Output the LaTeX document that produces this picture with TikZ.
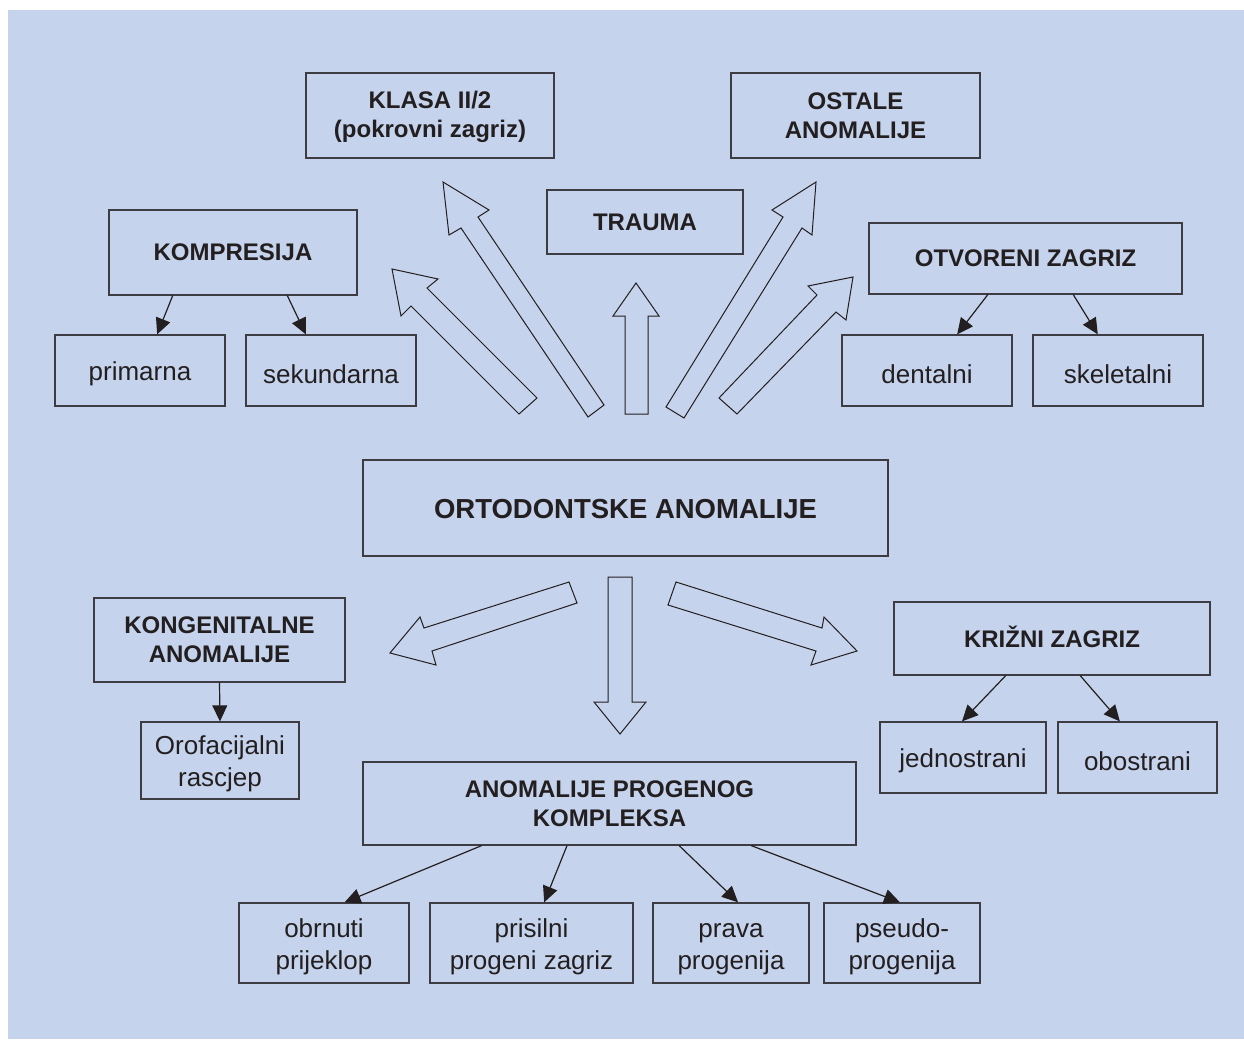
\documentclass[tikz,border=0pt]{standalone}
\usepackage{fontspec}
\setmainfont{Liberation Sans}
\usetikzlibrary{arrows.meta,calc}
\definecolor{bgblue}{RGB}{197,211,236}
\definecolor{boxcol}{RGB}{60,60,66}
\definecolor{txtcol}{RGB}{35,31,32}
\newcommand{\myhs}{\rule[-4pt]{0pt}{24pt}}
\newcommand{\myps}{\rule{0pt}{26pt}}
\newcommand{\myts}{\rule[-3pt]{0pt}{27pt}}
\tikzset{
  box/.style={draw=boxcol, line width=1.3pt, inner sep=0pt, align=center, text=txtcol},
  headtxt/.style={font=\fontsize{24}{29}\selectfont\bfseries},
  plaintxt/.style={font=\fontsize{26}{32}\selectfont},
  conn/.style={draw=txtcol, line width=1.2pt, -{Triangle[length=16pt,width=15pt]}},
  fatarrow/.style={draw=txtcol, line width=1pt, line join=miter}
}
\begin{document}
\begin{tikzpicture}[x=1pt,y=-1pt]
\useasboundingbox (0,0) rectangle (1244,1039);
\fill[white] (0,0) rectangle (1244,1039);
\fill[bgblue] (8,10) rectangle (1244,1039);

% upper nodes
\node[box,headtxt,minimum width=248pt,minimum height=85pt] (klasa) at (430,115.5) {\myhs KLASA II/2\\\myhs(pokrovni zagriz)};
\node[box,headtxt,minimum width=249pt,minimum height=85pt] (ostale) at (855.5,115.5) {\myhs OSTALE\\\myhs ANOMALIJE};
\node[box,headtxt,minimum width=196pt,minimum height=64pt] (trauma) at (645,222) {\myhs TRAUMA};
\node[box,headtxt,minimum width=248pt,minimum height=85pt] (kompresija) at (233,252.5) {\myhs KOMPRESIJA};
\node[box,headtxt,minimum width=313pt,minimum height=71pt] (otvoreni) at (1025.5,258.5) {\myhs OTVORENI ZAGRIZ};
\node[box,plaintxt,minimum width=170pt,minimum height=71pt] (primarna) at (140,370.5) {\myps primarna};
\node[box,plaintxt,minimum width=170pt,minimum height=71pt] (sekundarna) at (331,370.5) {\myps sekundarna};
\node[box,plaintxt,minimum width=170pt,minimum height=71pt] (dentalni) at (927,370.5) {\myps dentalni};
\node[box,plaintxt,minimum width=170pt,minimum height=71pt] (skeletalni) at (1118,370.5) {\myps skeletalni};

% centre
\node[box,font=\fontsize{27.5}{33}\selectfont\bfseries,minimum width=525pt,minimum height=96pt] (orto) at (625.5,508) {\myts ORTODONTSKE ANOMALIJE};

% lower nodes
\node[box,headtxt,minimum width=251pt,minimum height=84pt] (kong) at (219.5,640) {\myhs KONGENITALNE\\\myhs ANOMALIJE};
\node[box,plaintxt,minimum width=158pt,minimum height=77pt] (orof) at (220,760.5) {\myps Orofacijalni\\\myps rascjep};
\node[box,headtxt,minimum width=316pt,minimum height=73pt] (krizni) at (1052,638.5) {\myhs KRIŽNI ZAGRIZ};
\node[box,plaintxt,minimum width=166pt,minimum height=71pt] (jedno) at (963,757.5) {\myps jednostrani};
\node[box,plaintxt,minimum width=159pt,minimum height=71pt] (obo) at (1137.5,757.5) {\myps obostrani};
\node[box,headtxt,minimum width=493pt,minimum height=83pt] (prog) at (609.5,803.5) {\myhs ANOMALIJE PROGENOG\\\myhs KOMPLEKSA};
\node[box,plaintxt,minimum width=170pt,minimum height=80pt] (obrnuti) at (324,943) {\myps obrnuti\\\myps prijeklop};
\node[box,plaintxt,minimum width=203pt,minimum height=80pt] (prisilni) at (531.5,943) {\myps prisilni\\\myps progeni zagriz};
\node[box,plaintxt,minimum width=156pt,minimum height=80pt] (prava) at (731,943) {\myps prava\\\myps progenija};
\node[box,plaintxt,minimum width=156pt,minimum height=80pt] (pseudo) at (902,943) {\myps pseudo-\\\myps progenija};

% connectors
\draw[conn] ($(kompresija.south west)!0.258!(kompresija.south east)$) -- ($(primarna.north west)!0.6!(primarna.north east)$);
\draw[conn] ($(kompresija.south west)!0.718!(kompresija.south east)$) -- ($(sekundarna.north west)!0.353!(sekundarna.north east)$);
\draw[conn] ($(otvoreni.south west)!0.38!(otvoreni.south east)$) -- ($(dentalni.north west)!0.676!(dentalni.north east)$);
\draw[conn] ($(otvoreni.south west)!0.652!(otvoreni.south east)$) -- ($(skeletalni.north west)!0.382!(skeletalni.north east)$);
\draw[conn] (kong.south) -- (orof.north);
\draw[conn] ($(krizni.south west)!0.354!(krizni.south east)$) -- ($(jedno.north west)!0.494!(jedno.north east)$);
\draw[conn] ($(krizni.south west)!0.589!(krizni.south east)$) -- ($(obo.north west)!0.39!(obo.north east)$);
\draw[conn] ($(prog.south west)!0.241!(prog.south east)$) -- ($(obrnuti.north west)!0.62!(obrnuti.north east)$);
\draw[conn] ($(prog.south west)!0.414!(prog.south east)$) -- ($(prisilni.north west)!0.562!(prisilni.north east)$);
\draw[conn] ($(prog.south west)!0.641!(prog.south east)$) -- ($(prava.north west)!0.545!(prava.north east)$);
\draw[conn] ($(prog.south west)!0.787!(prog.south east)$) -- ($(pseudo.north west)!0.487!(pseudo.north east)$);

% block arrows (upper)
\draw[fatarrow] (519,414) -- (411,306) -- (401,316) -- (392,269) -- (438,279) -- (427,288) -- (537,398) -- cycle;
\draw[fatarrow] (588,417) -- (461,228) -- (449,235) -- (443,182) -- (489,210) -- (478,217) -- (604,405) -- cycle;
\draw[fatarrow] (625,414) -- (625,316) -- (613,316) -- (636,283) -- (659,316) -- (648,316) -- (648,414) -- cycle;
\draw[fatarrow] (666,407) -- (783,217) -- (772,210) -- (816,182) -- (812,235) -- (802,228) -- (684,418) -- cycle;
\draw[fatarrow] (719,398) -- (817,295) -- (808,286) -- (853,277) -- (846,320) -- (836,312) -- (737,414) -- cycle;
% block arrows (lower)
\draw[fatarrow] (569,582) -- (424,628) -- (420,617) -- (390,653) -- (436,665) -- (432,651) -- (577,603) -- cycle;
\draw[fatarrow] (608,577) -- (608,702) -- (594,702) -- (620,734) -- (646,702) -- (632,702) -- (632,577) -- cycle;
\draw[fatarrow] (676,582) -- (822,628) -- (824,617) -- (857,651) -- (811,665) -- (816,651) -- (668,605) -- cycle;
\end{tikzpicture}
\end{document}
